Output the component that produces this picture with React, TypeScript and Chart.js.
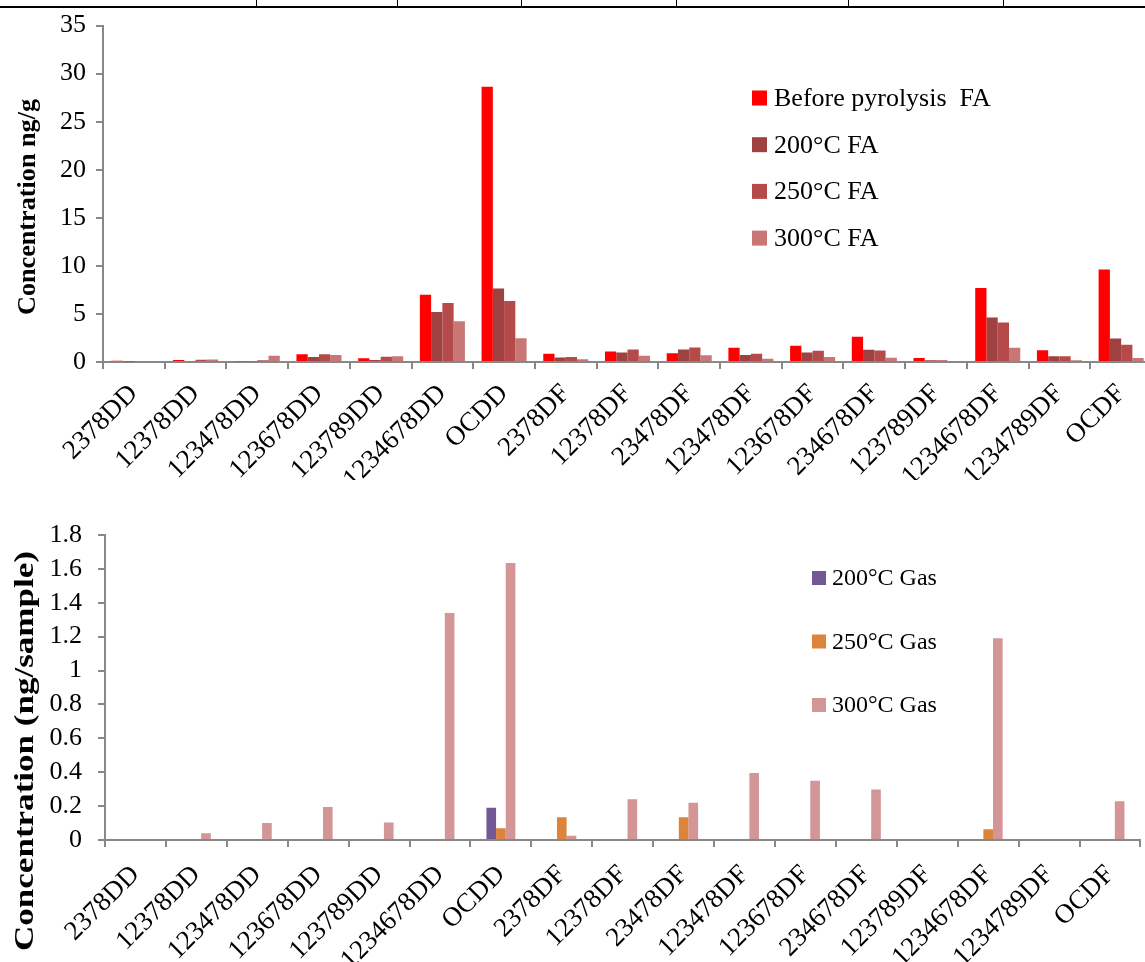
import React, { useEffect, useRef } from "react";
import { Chart, registerables } from "chart.js";

Chart.register(...registerables);

// ---------- data ----------
const categories = [
  "2378DD", "12378DD", "123478DD", "123678DD", "123789DD", "1234678DD", "OCDD",
  "2378DF", "12378DF", "23478DF", "123478DF", "123678DF", "234678DF", "123789DF",
  "1234678DF", "1234789DF", "OCDF",
];

const faLabels = ["Before pyrolysis  FA", "200°C FA", "250°C FA", "300°C FA"];
const faBefore = [0.12, 0.22, 0.07, 0.8, 0.38, 7.0, 28.65, 0.85, 1.1, 0.9, 1.48, 1.7, 2.62, 0.42, 7.7, 1.22, 9.62];
const fa200 = [0.05, 0.1, 0.07, 0.52, 0.2, 5.2, 7.65, 0.48, 1.0, 1.31, 0.72, 1.0, 1.28, 0.17, 4.62, 0.59, 2.45];
const fa250 = [0.1, 0.24, 0.17, 0.8, 0.55, 6.13, 6.34, 0.52, 1.31, 1.52, 0.86, 1.17, 1.2, 0.17, 4.1, 0.59, 1.79];
const fa300 = [0.1, 0.27, 0.65, 0.72, 0.59, 4.24, 2.48, 0.28, 0.65, 0.69, 0.34, 0.52, 0.45, 0.07, 1.48, 0.17, 0.41];

const gasLabels = ["200°C Gas", "250°C Gas", "300°C Gas"];
const gas200 = [0, 0, 0, 0, 0, 0, 0.19, 0, 0, 0, 0, 0, 0, 0, 0, 0, 0];
const gas250 = [0, 0, 0, 0, 0, 0, 0.07, 0.135, 0, 0.135, 0, 0, 0, 0, 0.063, 0, 0];
const gas300 = [0, 0.04, 0.1, 0.195, 0.104, 1.34, 1.635, 0.025, 0.24, 0.22, 0.395, 0.35, 0.298, 0, 1.19, 0, 0.228];

const topYTicks = ["0", "5", "10", "15", "20", "25", "30", "35"];
const bottomYTicks = ["0", "0.2", "0.4", "0.6", "0.8", "1", "1.2", "1.4", "1.6", "1.8"];

const topTitle = "Concentration ng/g";
const bottomTitle = "Concentration (ng/sample)";

// ---------- styles ----------
const FONT = "'Liberation Serif', 'Times New Roman', serif";
const AXIS_GRAY = "#888888";
const faColors = ["#FF0000", "#9E4140", "#B44B4A", "#C87776"];
const gasColors = ["#725892", "#DD843C", "#D39595"];

const boxLegendPlugin = {
  id: "boxLegend",
  afterDraw(chart: any, _args: any, o: any) {
    const ctx = chart.ctx;
    ctx.save();
    chart.data.datasets.forEach((ds: any, i: number) => {
      const y = o.y + i * o.gap;
      ctx.fillStyle = ds.backgroundColor;
      ctx.fillRect(o.x, y - o.box / 2, o.box, o.box);
      ctx.fillStyle = "#000";
      ctx.font = o.font;
      ctx.textAlign = "left";
      ctx.textBaseline = "middle";
      ctx.fillText(ds.label, o.x + o.box + o.textGap, y + 1);
    });
    ctx.restore();
  },
};

const sideTitlePlugin = {
  id: "sideTitle",
  afterDraw(chart: any, _args: any, o: any) {
    const ctx = chart.ctx;
    ctx.save();
    ctx.translate(o.x, o.y);
    ctx.rotate(-Math.PI / 2);
    ctx.font = o.font;
    const w = ctx.measureText(o.text).width;
    if (o.length && w > 0) ctx.scale(o.length / w, 1);
    ctx.fillStyle = "#000";
    ctx.textAlign = "center";
    ctx.textBaseline = "middle";
    ctx.fillText(o.text, 0, 0);
    ctx.restore();
  },
};

function axisX(height: number, fontSize: number, pad: number) {
  return {
    ticks: {
      font: { family: FONT, size: fontSize },
      color: "#000",
      minRotation: 45,
      maxRotation: 45,
      autoSkip: false,
      padding: pad,
    },
    grid: {
      drawOnChartArea: false,
      drawTicks: true,
      tickLength: 7,
      color: AXIS_GRAY,
      lineWidth: 2,
    },
    border: { color: AXIS_GRAY, width: 2 },
    afterFit: (s: any) => {
      s.height = height;
    },
  };
}

function axisY(width: number, max: number, step: number, labels: string[], fontSize: number, pad: number) {
  return {
    min: 0,
    max,
    ticks: {
      stepSize: step,
      autoSkip: false,
      font: { family: FONT, size: fontSize },
      color: "#000",
      padding: pad,
      callback: (_v: any, i: number) => labels[i],
    },
    grid: {
      drawOnChartArea: false,
      drawTicks: true,
      tickLength: 7,
      color: AXIS_GRAY,
      lineWidth: 2,
    },
    border: { color: AXIS_GRAY, width: 2 },
    afterFit: (s: any) => {
      s.width = width;
    },
  };
}

function TopChart() {
  const ref = useRef<HTMLCanvasElement>(null);
  useEffect(() => {
    const series = [faBefore, fa200, fa250, fa300];
    const chart = new Chart(ref.current as HTMLCanvasElement, {
      type: "bar",
      data: {
        labels: categories,
        datasets: series.map((d, i) => ({
          label: faLabels[i],
          data: d,
          backgroundColor: faColors[i],
          borderWidth: 0,
        })),
      },
      options: {
        responsive: false,
        animation: false,
        layout: { padding: { top: 23, right: 8, left: 0, bottom: 0 } },
        datasets: { bar: { categoryPercentage: 0.73, barPercentage: 1 } },
        plugins: {
          legend: { display: false },
          tooltip: { enabled: false },
          boxLegend: { x: 752, y: 98, gap: 46.7, box: 15, textGap: 7, font: `26px ${FONT}` },
          sideTitle: { x: 28, y: 207, text: topTitle, font: `bold 26px ${FONT}`, length: 216 },
        } as any,
        scales: {
          x: axisX(118, 27, 9) as any,
          y: axisY(103, 35, 5, topYTicks, 26, 10) as any,
        },
      },
      plugins: [boxLegendPlugin, sideTitlePlugin] as any,
    });
    return () => chart.destroy();
  }, []);
  return (
    <canvas
      ref={ref}
      width={1160}
      height={480}
      style={{ position: "absolute", left: 0, top: 0, width: 1160, height: 480 }}
    />
  );
}

function BottomChart() {
  const ref = useRef<HTMLCanvasElement>(null);
  useEffect(() => {
    const series = [gas200, gas250, gas300];
    const chart = new Chart(ref.current as HTMLCanvasElement, {
      type: "bar",
      data: {
        labels: categories,
        datasets: series.map((d, i) => ({
          label: gasLabels[i],
          data: d,
          backgroundColor: gasColors[i],
          borderWidth: 0,
        })),
      },
      options: {
        responsive: false,
        animation: false,
        layout: { padding: { top: 55, right: 3, left: 0, bottom: 0 } },
        datasets: { bar: { categoryPercentage: 0.475, barPercentage: 1 } },
        plugins: {
          legend: { display: false },
          tooltip: { enabled: false },
          boxLegend: { x: 812, y: 98, gap: 63.5, box: 14, textGap: 6, font: `24px ${FONT}` },
          sideTitle: { x: 26, y: 271, text: bottomTitle, font: `bold 27px ${FONT}`, length: 400 },
        } as any,
        scales: {
          x: axisX(122, 27, 12) as any,
          y: axisY(105, 1.8, 0.2, bottomYTicks, 26, 16) as any,
        },
      },
      plugins: [boxLegendPlugin, sideTitlePlugin] as any,
    });
    return () => chart.destroy();
  }, []);
  return (
    <canvas
      ref={ref}
      width={1145}
      height={482}
      style={{ position: "absolute", left: 0, top: 480, width: 1145, height: 482 }}
    />
  );
}

const borderTicks = [256, 397, 521, 676, 848, 1003];

export default function App() {
  return (
    <div
      style={{
        position: "fixed",
        left: 0,
        top: 0,
        width: 1145,
        height: 962,
        overflow: "hidden",
        background: "#fff",
      }}
    >
      <TopChart />
      <BottomChart />
      <div style={{ position: "absolute", left: 0, top: 6, width: 1145, height: 2, background: "#000" }} />
      {borderTicks.map((x) => (
        <div key={x} style={{ position: "absolute", left: x, top: 0, width: 1, height: 7, background: "#000" }} />
      ))}
    </div>
  );
}
